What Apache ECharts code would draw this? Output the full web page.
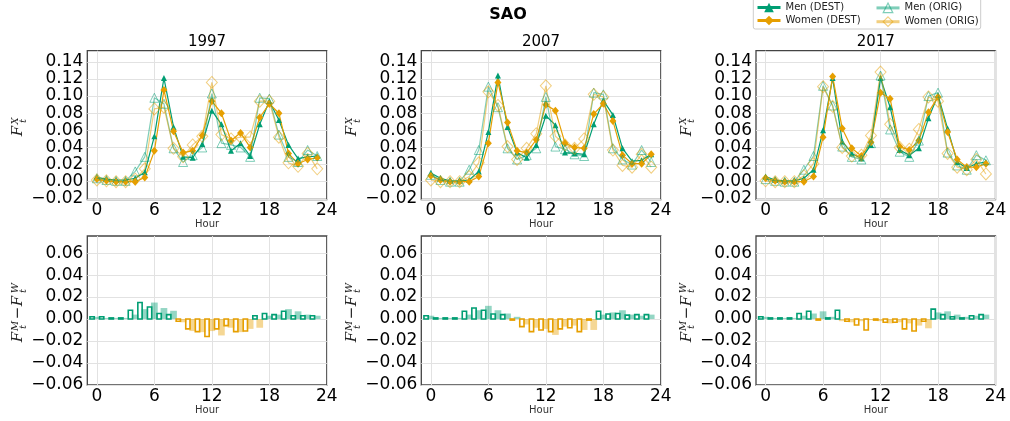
<!DOCTYPE html>
<html><head><meta charset="utf-8">
<script src="https://cdn.jsdelivr.net/npm/echarts@6/dist/echarts.min.js"></script>
<style>html,body{margin:0;padding:0;background:#fff}#c{width:1010px;height:421px}</style>
</head><body><div id="c"></div>
<script>
// ---------------- data ----------------
const hours = [0,1,2,3,4,5,6,7,8,9,10,11,12,13,14,15,16,17,18,19,20,21,22,23];
const years = ['1997','2007','2017'];
const xTickValues = [0,6,12,18,24];
const topTickValues = [-0.02,0,0.02,0.04,0.06,0.08,0.10,0.12,0.14];
const bottomTickValues = [-0.06,-0.04,-0.02,0,0.02,0.04,0.06];

const menDest1997 = [0.005,0.003,0.002,0.002,0.004,0.011,0.053,0.121,0.064,0.029,0.028,0.044,0.083,0.067,0.036,0.045,0.030,0.067,0.094,0.072,0.043,0.027,0.029,0.030];
const womenDest1997 = [0.003,0.001,0.000,0.000,0.000,0.005,0.036,0.107,0.059,0.034,0.036,0.054,0.094,0.080,0.048,0.057,0.040,0.075,0.091,0.080,0.033,0.021,0.026,0.028];
const menOrig1997 = [0.004,0.002,0.001,0.001,0.012,0.029,0.098,0.091,0.039,0.023,0.031,0.040,0.103,0.045,0.043,0.040,0.029,0.098,0.097,0.055,0.029,0.023,0.037,0.030];
const womenOrig1997 = [0.002,0.001,0.000,0.000,0.003,0.015,0.085,0.087,0.039,0.029,0.043,0.053,0.116,0.055,0.050,0.052,0.052,0.094,0.094,0.052,0.022,0.018,0.033,0.015];

const menDest2007 = [0.010,0.004,0.001,0.001,0.002,0.012,0.058,0.124,0.064,0.034,0.028,0.043,0.077,0.066,0.034,0.033,0.032,0.067,0.095,0.078,0.039,0.024,0.025,0.032];
const womenDest2007 = [0.007,0.002,0.000,0.000,0.000,0.006,0.045,0.116,0.069,0.036,0.034,0.049,0.090,0.083,0.045,0.040,0.039,0.079,0.091,0.071,0.031,0.021,0.021,0.032];
const menOrig2007 = [0.008,0.002,0.000,0.000,0.014,0.037,0.111,0.087,0.039,0.026,0.031,0.039,0.099,0.041,0.038,0.032,0.030,0.104,0.102,0.039,0.026,0.020,0.037,0.023];
const womenOrig2007 = [0.002,0.000,0.000,0.000,0.006,0.022,0.105,0.089,0.041,0.026,0.039,0.056,0.112,0.053,0.043,0.039,0.050,0.102,0.099,0.037,0.019,0.017,0.032,0.017];

const menDest2017 = [0.006,0.002,0.001,0.001,0.004,0.014,0.060,0.121,0.047,0.033,0.027,0.043,0.121,0.087,0.037,0.031,0.039,0.074,0.101,0.062,0.023,0.016,0.021,0.023];
const womenDest2017 = [0.004,0.001,0.000,0.000,0.000,0.006,0.052,0.123,0.062,0.039,0.030,0.046,0.104,0.097,0.041,0.037,0.048,0.081,0.099,0.058,0.026,0.017,0.017,0.021];
const menOrig2017 = [0.003,0.001,0.000,0.000,0.014,0.030,0.112,0.089,0.041,0.029,0.026,0.045,0.124,0.061,0.035,0.029,0.048,0.100,0.104,0.034,0.019,0.014,0.031,0.025];
const womenOrig2017 = [0.001,0.000,0.000,0.000,0.007,0.021,0.111,0.088,0.040,0.030,0.031,0.054,0.128,0.067,0.040,0.038,0.061,0.099,0.094,0.033,0.017,0.014,0.026,0.009];

// difference bars (men - women): DEST (hollow) and ORIG (filled)
const destDiff1997 = [0.002,0.002,0.001,0.001,0.008,0.015,0.011,0.005,0.004,-0.002,-0.009,-0.0115,-0.016,-0.009,-0.006,-0.0115,-0.011,0.003,0.005,0.004,0.007,0.003,0.003,0.003];
const origDiff1997 = [0.002,0.001,0.001,0.001,0.004,0.009,0.015,0.010,0.0075,-0.003,-0.011,-0.012,-0.011,-0.015,-0.008,-0.012,-0.009,-0.008,0.003,0.004,0.009,0.007,0.004,0.003];
const destDiff2007 = [0.003,0.001,0.001,0.001,0.007,0.010,0.008,0.0045,0.004,-0.001,-0.007,-0.0115,-0.010,-0.0115,-0.009,-0.008,-0.0115,-0.001,0.007,0.0045,0.005,0.0035,0.004,0.004];
const origDiff2007 = [0.003,0.001,0.001,0.001,0.004,0.008,0.012,0.008,0.005,0.002,-0.005,-0.008,-0.009,-0.0145,-0.007,-0.006,-0.010,-0.010,0.004,0.006,0.008,0.004,0.003,0.004];
const destDiff2017 = [0.002,0.001,0.001,0.001,0.005,0.007,-0.001,0.001,0.008,-0.002,-0.0055,-0.010,-0.001,-0.003,-0.003,-0.009,-0.011,-0.002,0.009,0.004,0.002,0.001,0.003,0.004];
const origDiff2017 = [0.002,0.001,0.001,0.001,0.003,0.005,0.007,0.002,-0.002,-0.003,-0.002,-0.001,-0.002,-0.004,-0.003,-0.004,-0.006,-0.0085,0.006,0.007,0.004,0.002,0.003,0.004];

// ---------------- styling / layout ----------------
const menDest = [menDest1997, menDest2007, menDest2017];
const womenDest = [womenDest1997, womenDest2007, womenDest2017];
const menOrig = [menOrig1997, menOrig2007, menOrig2017];
const womenOrig = [womenOrig1997, womenOrig2007, womenOrig2017];
const destDiff = [destDiff1997, destDiff2007, destDiff2017];
const origDiff = [origDiff1997, origDiff2007, origDiff2017];

const GREEN = '#009E73', ORANGE = '#E69F00';
const GREEN_L = 'rgba(0,158,115,0.5)', ORANGE_L = 'rgba(230,159,0,0.5)';
const BAR_GREEN_L = 'rgba(0,158,115,0.42)', BAR_ORANGE_L = 'rgba(230,159,0,0.42)';
const FONT = '"DejaVu Sans", sans-serif';
const MATH = '"DejaVu Serif", serif';

const lefts = [87.3, 421.3, 756];
const W = 239.5;
const TOP_Y = 50.7, TOP_H = 148.8, BOT_Y = 236, BOT_H = 149;

const fmt = v => (v < 0 ? '\u2212' : '') + Math.abs(v).toFixed(2);

const grid = [], xAxis = [], yAxis = [], series = [];
for (let r = 0; r < 2; r++) {
  for (let k = 0; k < 3; k++) {
    const idx = r * 3 + k;
    grid.push({left: lefts[k], top: r === 0 ? TOP_Y : BOT_Y, width: W, height: r === 0 ? TOP_H : BOT_H,
      show: true, borderColor: '#444', borderWidth: 1.3, backgroundColor: 'transparent'});
    xAxis.push({type: 'value', gridIndex: idx, min: -1, max: 24,
      axisLine: {show: false},
      axisTick: {show: false, customValues: xTickValues},
      axisLabel: {customValues: xTickValues, fontSize: 17, color: '#000', fontFamily: FONT, margin: 3},
      splitLine: {show: true, lineStyle: {color: '#e2e2e2', width: 1}}});
    const ticks = r === 0 ? topTickValues : bottomTickValues;
    yAxis.push({type: 'value', gridIndex: idx,
      min: r === 0 ? -0.0208 : -0.0602, max: r === 0 ? 0.153 : 0.0757,
      axisLine: {show: false},
      axisTick: {show: false, customValues: ticks},
      axisLabel: {customValues: ticks, fontSize: 17, color: '#000', fontFamily: FONT, margin: 4, formatter: fmt},
      splitLine: {show: true, lineStyle: {color: '#e2e2e2', width: 1}}});
  }
}

function lineSeries(name, k, values, opt) {
  return Object.assign({type: 'line', name: name, xAxisIndex: k, yAxisIndex: k,
    data: hours.map((h, i) => [h, values[i]]), showAllSymbol: true, animation: false}, opt);
}
for (let k = 0; k < 3; k++) {
  series.push(lineSeries('Men (DEST)', k, menDest[k], {symbol: 'triangle', symbolSize: 6,
    lineStyle: {color: GREEN, width: 1.2}, itemStyle: {color: GREEN}, z: 3}));
  series.push(lineSeries('Women (DEST)', k, womenDest[k], {symbol: 'diamond', symbolSize: [7, 8],
    lineStyle: {color: ORANGE, width: 1.2}, itemStyle: {color: ORANGE}, z: 3}));
  series.push(lineSeries('Men (ORIG)', k, menOrig[k], {symbol: 'triangle', symbolSize: 9,
    lineStyle: {color: GREEN_L, width: 1.2}, itemStyle: {color: 'rgba(255,255,255,0)', borderColor: GREEN_L, borderWidth: 1}, z: 4}));
  series.push(lineSeries('Women (ORIG)', k, womenOrig[k], {symbol: 'diamond', symbolSize: [11, 12],
    lineStyle: {color: ORANGE_L, width: 1.2}, itemStyle: {color: 'rgba(255,255,255,0)', borderColor: ORANGE_L, borderWidth: 1}, z: 4}));
}

function barRenderer(width, hollow) {
  return function (params, api) {
    const x = api.value(0), v = api.value(1);
    const p0 = api.coord([x - width / 2, 0]);
    const p1 = api.coord([x + width / 2, v]);
    const pos = v >= 0;
    const shape = {x: p0[0], y: Math.min(p0[1], p1[1]), width: p1[0] - p0[0], height: Math.abs(p1[1] - p0[1])};
    const style = hollow
      ? {fill: 'none', stroke: pos ? GREEN : ORANGE, lineWidth: 1.6}
      : {fill: pos ? BAR_GREEN_L : BAR_ORANGE_L};
    return {type: 'rect', shape: shape, style: style};
  };
}
for (let k = 0; k < 3; k++) {
  series.push({type: 'custom', name: 'diff ORIG ' + years[k], xAxisIndex: 3 + k, yAxisIndex: 3 + k,
    data: hours.map((h, i) => [h, origDiff[k][i]]), encode: {x: 0, y: 1},
    renderItem: barRenderer(0.7, false), animation: false, z: 2});
  series.push({type: 'custom', name: 'diff DEST ' + years[k], xAxisIndex: 3 + k, yAxisIndex: 3 + k,
    data: hours.map((h, i) => [h - 0.5, destDiff[k][i]]), encode: {x: 0, y: 1},
    renderItem: barRenderer(0.45, true), animation: false, z: 3});
}

// ---------------- text / decorations ----------------
function txt(s, x, y, font, fill) {
  return {type: 'text', x: x, y: y, silent: true,
    style: {text: s, font: font, fill: fill || '#000', textAlign: 'center', align: 'center',
      textVerticalAlign: 'middle', verticalAlign: 'middle'}};
}
const graphic = [];
graphic.push({type: 'rect', shape: {x: 753.3, y: -5, width: 227.4, height: 34, r: 2},
  style: {fill: '#fff', stroke: '#cccccc', lineWidth: 1}, z: -1});
graphic.push(txt('SAO', 508, 15, 'bold 16px ' + FONT));
for (let k = 0; k < 3; k++) {
  const cx = lefts[k] + W / 2;
  graphic.push(txt(years[k], cx, 42, '15px ' + FONT));
  graphic.push(txt('Hour', cx, 224.5, '10px ' + FONT, '#333'));
  graphic.push(txt('Hour', cx, 410.5, '10px ' + FONT, '#333'));
  const gx = lefts[k] - 69.3;
  graphic.push({type: 'group', x: gx, y: 126, rotation: Math.PI / 2, children: [
    txt('F', -5, 0, 'italic 15px ' + MATH, '#222'),
    txt('X', 5, -3, 'italic 10px ' + MATH, '#222'),
    txt('t', 5, 5, 'italic 10px ' + MATH, '#222')
  ]});
  graphic.push({type: 'group', x: gx, y: 310, rotation: Math.PI / 2, children: [
    txt('F', -27, 0, 'italic 15px ' + MATH, '#222'),
    txt('M', -16, -3, 'italic 10px ' + MATH, '#222'),
    txt('t', -17, 5, 'italic 10px ' + MATH, '#222'),
    txt('\u2212', -3, 0, '15px ' + MATH, '#222'),
    txt('F', 9, 0, 'italic 15px ' + MATH, '#222'),
    txt('W', 22, -3, 'italic 10px ' + MATH, '#222'),
    txt('t', 19, 5, 'italic 10px ' + MATH, '#222')
  ]});
}

const legendCommon = {orient: 'vertical', top: 2.5, padding: 0, itemWidth: 23, itemHeight: 12, itemGap: 3,
  textStyle: {fontSize: 10, fontFamily: FONT, color: '#222'}, lineStyle: {width: 3}, selectedMode: false};

const option = {
  animation: false,
  backgroundColor: '#fff',
  grid: grid, xAxis: xAxis, yAxis: yAxis, series: series, graphic: graphic,
  legend: [
    Object.assign({left: 756, data: ['Men (DEST)', 'Women (DEST)']}, legendCommon),
    Object.assign({left: 875, data: [{name: 'Men (ORIG)', itemStyle: {borderWidth: 1.2}}, {name: 'Women (ORIG)', itemStyle: {borderWidth: 1.2}}]}, legendCommon)
  ]
};
const chart = echarts.init(document.getElementById('c'), null, {renderer: 'canvas'});
chart.setOption(option);
</script>
</body></html>
